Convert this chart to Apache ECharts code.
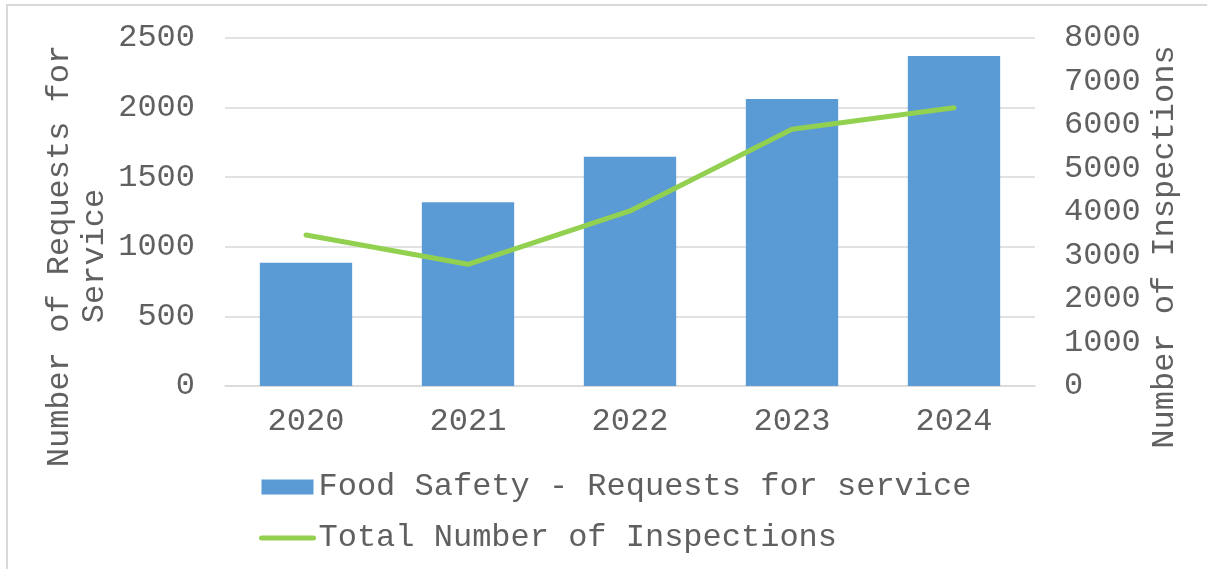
<!DOCTYPE html>
<html>
<head>
<meta charset="utf-8">
<script src="https://cdn.jsdelivr.net/npm/echarts@6/dist/echarts.min.js"></script>
<style>
  html, body { margin: 0; padding: 0; background: #fff; }
  #chart { width: 1207px; height: 569px; }
</style>
</head>
<body>
<div id="chart"></div>
<script>
const years = ['2020', '2021', '2022', '2023', '2024'];
const requests = [886, 1320, 1647, 2062, 2371];
const inspections = [3470, 2798, 4023, 5901, 6398];
const leftTicks = [0, 2500, 500];
const rightTicks = [0, 8000, 1000];

const font = 'Liberation Mono, Courier New, monospace';
const textColor = '#606060';

const chart = echarts.init(document.getElementById('chart'));

chart.setOption({
  animation: false,
  textStyle: { fontFamily: font },
  grid: { left: 225, right: 172, top: 38, bottom: 183 },
  legend: {
    orient: 'vertical',
    left: 254,
    top: 466,
    itemWidth: 52,
    itemHeight: 15,
    itemGap: 19,
    textStyle: { color: textColor, fontSize: 32, fontFamily: font },
    data: [
      { name: 'Food Safety - Requests for service', icon: 'rect' },
      {
        name: 'Total Number of Inspections',
        itemStyle: { color: 'rgba(0,0,0,0)', borderWidth: 0 },
        lineStyle: { color: '#92D050', width: 5, cap: 'round' },
      },
    ],
  },
  xAxis: {
    type: 'category',
    data: years,
    axisLine: { lineStyle: { color: '#D9D9D9', width: 1.5 } },
    axisTick: { show: false },
    axisLabel: { color: textColor, fontSize: 32, margin: 20, fontFamily: font },
  },
  yAxis: [
    {
      type: 'value',
      min: leftTicks[0],
      max: leftTicks[1],
      interval: leftTicks[2],
      axisLine: { show: false },
      axisTick: { show: false },
      axisLabel: { color: textColor, fontSize: 32, margin: 30, fontFamily: font, formatter: v => String(v) },
      splitLine: { lineStyle: { color: '#D9D9D9', width: 1.5 } },
    },
    {
      type: 'value',
      min: rightTicks[0],
      max: rightTicks[1],
      interval: rightTicks[2],
      axisLine: { show: false },
      axisTick: { show: false },
      axisLabel: { color: textColor, fontSize: 32, margin: 29, fontFamily: font, formatter: v => String(v) },
      splitLine: { show: false },
    },
  ],
  graphic: [
    {
      type: 'rect',
      shape: { x: 7, y: 5, width: 1210, height: 580 },
      style: { fill: 'none', stroke: '#D9D9D9', lineWidth: 2 },
      silent: true,
    },
    {
      type: 'text',
      x: 60, y: 256,
      rotation: Math.PI / 2,
      style: {
        text: 'Number of Requests for', fill: textColor, font: '32px ' + font,
        align: 'center', verticalAlign: 'middle',
      },
    },
    {
      type: 'text',
      x: 95, y: 256,
      rotation: Math.PI / 2,
      style: {
        text: 'Service', fill: textColor, font: '32px ' + font,
        align: 'center', verticalAlign: 'middle',
      },
    },
    {
      type: 'text',
      x: 1165, y: 247,
      rotation: Math.PI / 2,
      style: {
        text: 'Number of Inspections', fill: textColor, font: '32px ' + font,
        align: 'center', verticalAlign: 'middle',
      },
    },
  ],
  series: [
    {
      name: 'Food Safety - Requests for service',
      type: 'bar',
      data: requests,
      barWidth: '57%',
      itemStyle: { color: '#5B9BD5' },
    },
    {
      name: 'Total Number of Inspections',
      type: 'line',
      yAxisIndex: 1,
      data: inspections,
      symbol: 'none',
      lineStyle: { color: '#92D050', width: 5, cap: 'round', join: 'round' },
      itemStyle: { color: '#92D050' },
    },
  ],
});
</script>
</body>
</html>
